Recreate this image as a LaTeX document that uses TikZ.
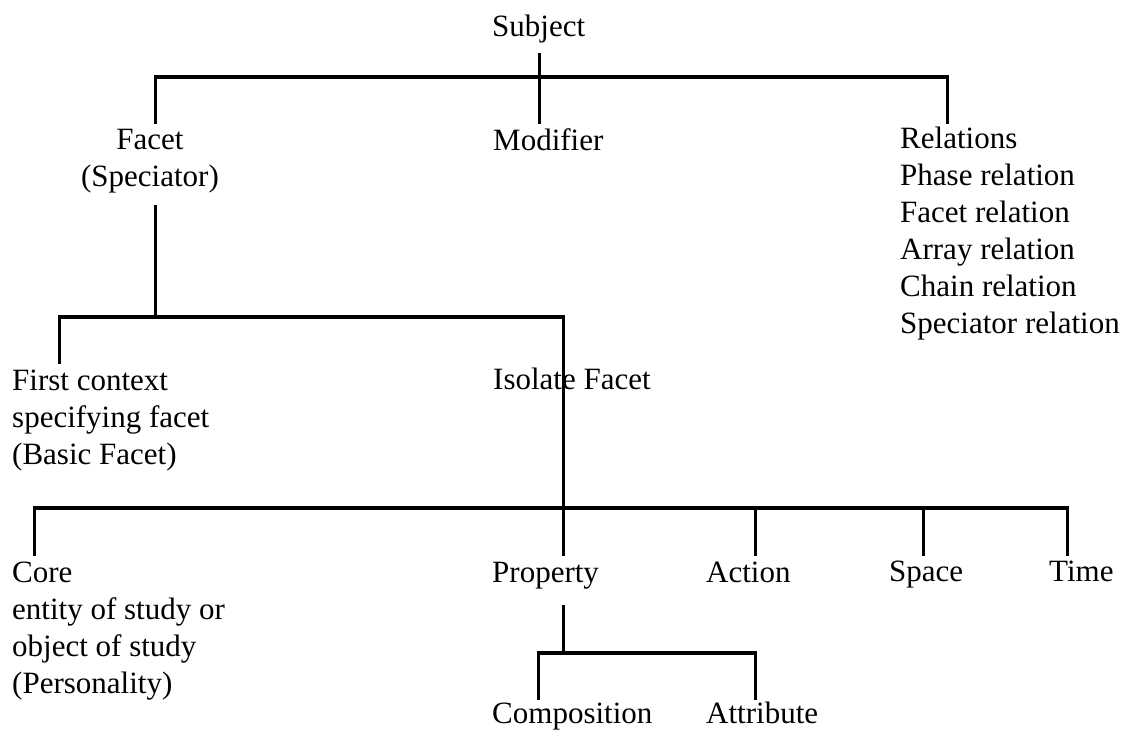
\documentclass[tikz,border=0pt]{standalone}
\usepackage{fontspec}
\setmainfont{Liberation Serif}
\usetikzlibrary{positioning}
\tikzset{
  lbl/.style ={inner sep=0pt, anchor=base west, font=\fontsize{31}{37}\selectfont},
  blk/.style ={lbl, align=left},
  bar/.style ={line width=4pt, shorten <=-1.5pt, shorten >=-1.5pt},
  stem/.style={line width=3pt}
}

\begin{document}
\begin{tikzpicture}[x=1pt, y=-1pt]
\useasboundingbox (0,0) rectangle (1130,731);

% labels (multi-line blocks sit on their last line)
\node[lbl] (subj)  at (492,36)  {Subject};
\node[blk, align=center, anchor=base] (facet) at (150,186) {Facet\\(Speciator)};
\node[lbl] (modif) at (493,150) {Modifier};
\node[blk] (rel)   at (900,333) {Relations\\Phase relation\\Facet relation\\Array relation\\Chain relation\\Speciator relation};
\node[blk] (first) at (12,464)  {First context\\specifying facet\\(Basic Facet)};
\node[lbl] (iso)   at (493,389) {Isolate Facet};
\node[blk] (core)  at (12,693)  {Core\\entity of study or\\object of study\\(Personality)};
\node[lbl] (prop)  at (492,582) {Property};
\node[lbl] (act)   at (706,582) {Action};
\node[lbl] (space) at (889,581) {Space};
\node[lbl] (time)  at (1049,581) {Time};
\node[lbl] (comp)  at (492,723) {Composition};
\node[lbl] (attr)  at (706,723) {Attribute};

% subject level
\coordinate (subj-out) at (539,53);
\coordinate (j1)       at (539,77);
\coordinate (facet-in) at (155,124);
\coordinate (modif-in) at (539,124);
\coordinate (rel-in)   at (947,124);
\draw[stem] (subj-out) -- (j1);
\draw[bar]  (facet-in |- j1) -- (rel-in |- j1);
\draw[stem] (facet-in |- j1) -- (facet-in);
\draw[stem] (j1) -- (modif-in);
\draw[stem] (rel-in |- j1) -- (rel-in);

% facet level
\coordinate (facet-out) at (155,205);
\coordinate (j2)        at (155,317);
\coordinate (first-in)  at (59,364);
\coordinate (iso-in)    at (563,317);
\draw[stem] (facet-out) -- (j2);
\draw[bar]  (first-in |- j2) -- (iso-in);
\draw[stem] (first-in |- j2) -- (first-in);

% isolate level
\coordinate (j3)       at (563,508);
\coordinate (core-in)  at (34,556);
\coordinate (prop-in)  at (563,556);
\coordinate (act-in)   at (755,556);
\coordinate (space-in) at (923,556);
\coordinate (time-in)  at (1067,556);
\draw[stem] (iso-in) -- (j3);
\draw[bar]  (core-in |- j3) -- (time-in |- j3);
\draw[stem] (core-in |- j3) -- (core-in);
\draw[stem] (j3) -- (prop-in);
\draw[stem] (act-in |- j3) -- (act-in);
\draw[stem] (space-in |- j3) -- (space-in);
\draw[stem] (time-in |- j3) -- (time-in);

% property level
\coordinate (prop-out) at (563,605);
\coordinate (j4)       at (563,653);
\coordinate (comp-in)  at (538,700);
\coordinate (attr-in)  at (755,700);
\draw[stem] (prop-out) -- (j4);
\draw[bar]  (comp-in |- j4) -- (attr-in |- j4);
\draw[stem] (comp-in |- j4) -- (comp-in);
\draw[stem] (attr-in |- j4) -- (attr-in);
\end{tikzpicture}
\end{document}
